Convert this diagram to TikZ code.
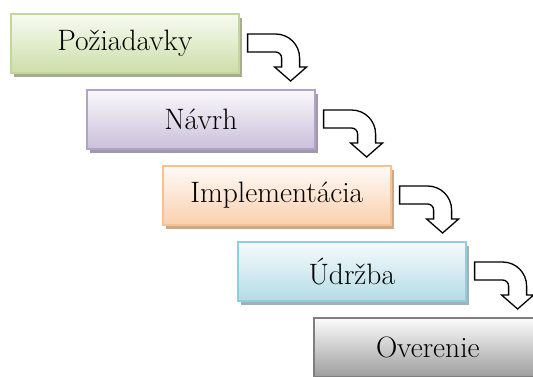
\documentclass[tikz,border=0pt]{standalone}
\usepackage{fontspec}
\setmainfont{Latin Modern Roman}
\usetikzlibrary{shadows,calc}
\definecolor{gB}{HTML}{C3D69B}\definecolor{gT}{HTML}{F8FBF2}\definecolor{gD}{HTML}{CCDEA9}\definecolor{gS}{HTML}{A5AC8F}
\definecolor{pB}{HTML}{B3A2C7}\definecolor{pT}{HTML}{FAF8FC}\definecolor{pD}{HTML}{CBC0DA}\definecolor{pS}{HTML}{A09AA8}
\definecolor{oB}{HTML}{FAC090}\definecolor{oT}{HTML}{FFFBF7}\definecolor{oD}{HTML}{FAD0AE}\definecolor{oS}{HTML}{C9A98A}
\definecolor{bB}{HTML}{93CDDD}\definecolor{bT}{HTML}{F5FBFD}\definecolor{bD}{HTML}{B5DCE6}\definecolor{bS}{HTML}{9DB3B9}
\definecolor{kB}{HTML}{7F7F7F}\definecolor{kT}{HTML}{FCFCFC}\definecolor{kD}{HTML}{9E9E9E}\definecolor{kS}{HTML}{6F6F6F}
\begin{document}
\begin{tikzpicture}[x=1pt,y=-1pt,
  stage/.style n args={4}{draw=#1, top color=#2, bottom color=#3,
    general shadow={fill=#4, shadow xshift=3.5pt, shadow yshift=-4pt},
    minimum width=228pt, minimum height=59pt, anchor=north west,
    line width=1.6pt, inner sep=0pt,
    font=\fontsize{29.5}{34}\selectfont},
  turn/.pic={\draw[line width=1.3pt, fill=white, line join=miter]
     (0,0) -- (28,0) .. controls (41.3,0) and (52,10.7) .. (52,24)
     -- (52,33) -- (59,33) -- (43,47) -- (27,33) -- (34,33) -- (34,24)
     .. controls (34,20.7) and (31.3,18) .. (28,18) -- (0,18) -- cycle;}
]
\useasboundingbox (0,0) rectangle (533,376);
\node[stage={gB}{gT}{gD}{gS}] (b1) at (10,13) {Požiadavky};
\node[stage={pB}{pT}{pD}{pS}] (b2) at (86,89) {Návrh};
\node[stage={oB}{oT}{oD}{oS}] (b3) at (162,165) {Implementácia};
\node[stage={bB}{bT}{bD}{bS}] (b4) at (237,241) {Údržba};
\node[stage={kB}{kT}{kD}{kS}] (b5) at (313,317) {Overenie};
\foreach \i in {1,2,3,4}{
  \pic at ($(b\i.north east)+(8,21)$) {turn};
}
\end{tikzpicture}
\end{document}
